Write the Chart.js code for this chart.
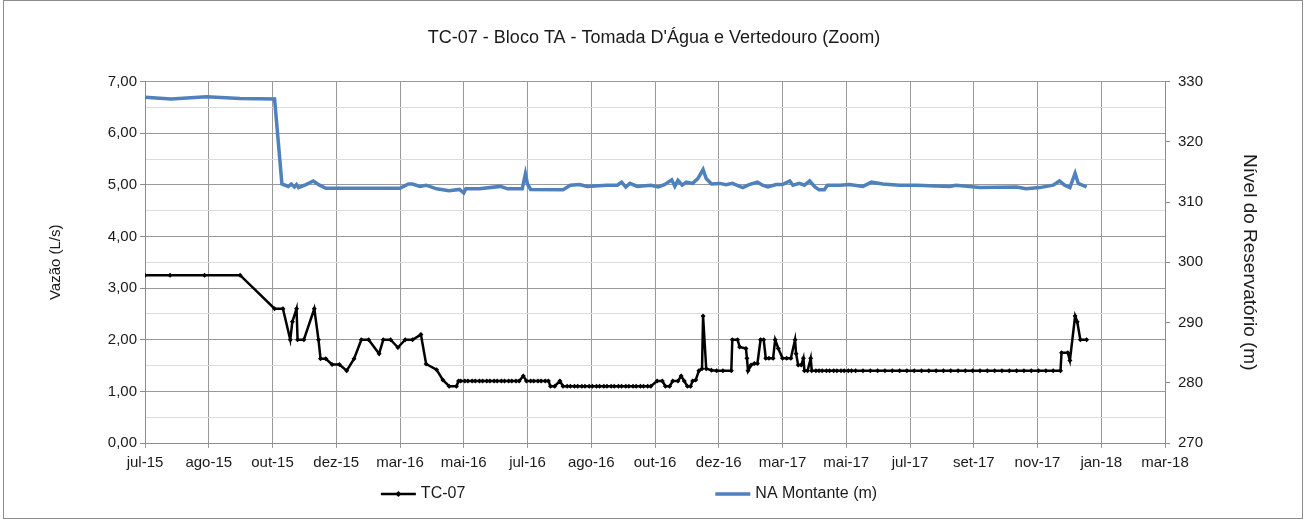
<!DOCTYPE html>
<html>
<head>
<meta charset="utf-8">
<script src="https://cdn.jsdelivr.net/npm/chart.js@4.4.1/dist/chart.umd.min.js"></script>
<style>
  html, body { margin: 0; padding: 0; background: #fff; }
</style>
</head>
<body>
<canvas id="chart" width="1304" height="519"></canvas>
<script>
const startDate = "2015-07-01";
const xTickLabels = ["jul-15", "ago-15", "out-15", "dez-15", "mar-16", "mai-16", "jul-16", "ago-16", "out-16",
    "dez-16", "mar-17", "mai-17", "jul-17", "set-17", "nov-17", "jan-18", "mar-18"];

// TC-07 (L/s)
const tcDates = [
    "2015-07-01", "2015-07-25", "2015-08-27", "2015-09-30", "2015-11-02", "2015-11-10", "2015-11-17", "2015-11-19", "2015-11-23", "2015-11-24",
    "2015-11-30", "2015-12-10", "2015-12-14", "2015-12-16", "2015-12-21", "2015-12-27", "2016-01-03", "2016-01-10", "2016-01-17", "2016-01-24",
    "2016-01-31", "2016-02-10", "2016-02-14", "2016-02-21", "2016-02-28", "2016-03-06", "2016-03-13", "2016-03-21", "2016-03-26", "2016-04-05",
    "2016-04-11", "2016-04-17", "2016-04-24", "2016-04-26", "2016-04-28", "2016-05-02", "2016-05-05", "2016-05-09", "2016-05-12", "2016-05-16",
    "2016-05-19", "2016-05-23", "2016-05-26", "2016-05-30", "2016-06-02", "2016-06-06", "2016-06-09", "2016-06-13", "2016-06-16", "2016-06-20",
    "2016-06-23", "2016-06-27", "2016-06-30", "2016-07-04", "2016-07-07", "2016-07-11", "2016-07-14", "2016-07-18", "2016-07-21", "2016-07-23",
    "2016-07-27", "2016-08-01", "2016-08-04", "2016-08-08", "2016-08-11", "2016-08-15", "2016-08-18", "2016-08-22", "2016-08-25", "2016-08-29",
    "2016-09-01", "2016-09-05", "2016-09-08", "2016-09-12", "2016-09-15", "2016-09-19", "2016-09-22", "2016-09-26", "2016-09-29", "2016-10-03",
    "2016-10-06", "2016-10-10", "2016-10-13", "2016-10-17", "2016-10-20", "2016-10-24", "2016-10-27", "2016-11-02", "2016-11-07", "2016-11-10",
    "2016-11-14", "2016-11-17", "2016-11-22", "2016-11-25", "2016-11-28", "2016-12-01", "2016-12-04", "2016-12-06", "2016-12-09", "2016-12-12",
    "2016-12-15", "2016-12-16", "2016-12-19", "2016-12-24", "2016-12-29", "2017-01-04", "2017-01-12", "2017-01-13", "2017-01-18", "2017-01-20",
    "2017-01-26", "2017-01-27", "2017-01-28", "2017-01-31", "2017-02-03", "2017-02-06", "2017-02-09", "2017-02-12", "2017-02-14", "2017-02-17",
    "2017-02-21", "2017-02-23", "2017-02-26", "2017-03-02", "2017-03-06", "2017-03-10", "2017-03-14", "2017-03-15", "2017-03-17", "2017-03-20",
    "2017-03-22", "2017-03-23", "2017-03-26", "2017-03-29", "2017-03-30", "2017-04-03", "2017-04-06", "2017-04-09", "2017-04-13", "2017-04-16",
    "2017-04-20", "2017-04-23", "2017-04-27", "2017-04-30", "2017-05-04", "2017-05-07", "2017-05-11", "2017-05-18", "2017-05-25", "2017-06-01",
    "2017-06-08", "2017-06-15", "2017-06-22", "2017-06-29", "2017-07-06", "2017-07-13", "2017-07-20", "2017-07-27", "2017-08-03", "2017-08-10",
    "2017-08-17", "2017-08-24", "2017-08-31", "2017-09-07", "2017-09-14", "2017-09-21", "2017-09-28", "2017-10-05", "2017-10-12", "2017-10-19",
    "2017-10-26", "2017-11-02", "2017-11-09", "2017-11-16", "2017-11-23", "2017-11-24", "2017-11-30", "2017-12-02", "2017-12-07", "2017-12-09",
    "2017-12-12", "2017-12-18"
];
const tcValues = [
    3.25, 3.25, 3.25, 3.25, 2.60, 2.60, 2.00, 2.35, 2.60, 2.00,
    2.00, 2.60, 2.00, 1.63, 1.63, 1.52, 1.52, 1.40, 1.63, 2.00,
    2.00, 1.73, 2.00, 2.00, 1.85, 2.00, 2.00, 2.10, 1.53, 1.42,
    1.22, 1.10, 1.10, 1.20, 1.20, 1.20, 1.20, 1.20, 1.20, 1.20,
    1.20, 1.20, 1.20, 1.20, 1.20, 1.20, 1.20, 1.20, 1.20, 1.20,
    1.20, 1.30, 1.20, 1.20, 1.20, 1.20, 1.20, 1.20, 1.20, 1.10,
    1.10, 1.20, 1.10, 1.10, 1.10, 1.10, 1.10, 1.10, 1.10, 1.10,
    1.10, 1.10, 1.10, 1.10, 1.10, 1.10, 1.10, 1.10, 1.10, 1.10,
    1.10, 1.10, 1.10, 1.10, 1.10, 1.10, 1.10, 1.20, 1.20, 1.10,
    1.10, 1.20, 1.20, 1.30, 1.20, 1.10, 1.10, 1.20, 1.22, 1.40,
    1.44, 2.46, 1.44, 1.41, 1.40, 1.40, 1.40, 2.00, 2.00, 1.86,
    1.83, 1.64, 1.40, 1.51, 1.54, 1.54, 2.00, 2.00, 1.64, 1.64,
    1.64, 2.00, 1.83, 1.64, 1.64, 1.64, 2.00, 1.73, 1.51, 1.51,
    1.64, 1.40, 1.40, 1.64, 1.40, 1.40, 1.40, 1.40, 1.40, 1.40,
    1.40, 1.40, 1.40, 1.40, 1.40, 1.40, 1.40, 1.40, 1.40, 1.40,
    1.40, 1.40, 1.40, 1.40, 1.40, 1.40, 1.40, 1.40, 1.40, 1.40,
    1.40, 1.40, 1.40, 1.40, 1.40, 1.40, 1.40, 1.40, 1.40, 1.40,
    1.40, 1.40, 1.40, 1.40, 1.40, 1.75, 1.75, 1.60, 2.46, 2.35,
    2.00, 2.00
];

// NA Montante (m)
const naDates = [
    "2015-07-01", "2015-07-26", "2015-08-29", "2015-09-30", "2015-11-02", "2015-11-09", "2015-11-15", "2015-11-18", "2015-11-21", "2015-11-23",
    "2015-11-25", "2015-12-02", "2015-12-09", "2015-12-15", "2015-12-21", "2016-03-01", "2016-03-09", "2016-03-13", "2016-03-20", "2016-03-26",
    "2016-04-05", "2016-04-17", "2016-04-27", "2016-05-01", "2016-05-03", "2016-05-16", "2016-06-05", "2016-06-12", "2016-06-26", "2016-06-29",
    "2016-07-01", "2016-07-04", "2016-08-04", "2016-08-11", "2016-08-20", "2016-08-27", "2016-09-15", "2016-09-25", "2016-09-29", "2016-10-03",
    "2016-10-07", "2016-10-14", "2016-10-27", "2016-11-03", "2016-11-09", "2016-11-16", "2016-11-19", "2016-11-22", "2016-11-26", "2016-11-30",
    "2016-12-06", "2016-12-11", "2016-12-16", "2016-12-19", "2016-12-24", "2017-01-01", "2017-01-07", "2017-01-13", "2017-01-20", "2017-01-23",
    "2017-01-29", "2017-02-06", "2017-02-11", "2017-02-16", "2017-02-24", "2017-03-02", "2017-03-09", "2017-03-12", "2017-03-18", "2017-03-23",
    "2017-03-28", "2017-04-02", "2017-04-06", "2017-04-11", "2017-04-14", "2017-04-26", "2017-05-05", "2017-05-18", "2017-05-26", "2017-06-06",
    "2017-06-22", "2017-07-08", "2017-08-09", "2017-08-15", "2017-09-07", "2017-10-12", "2017-10-21", "2017-11-03", "2017-11-16", "2017-11-22",
    "2017-11-27", "2017-12-02", "2017-12-07", "2017-12-10", "2017-12-18"
];
const naValues = [
    327.4, 327.1, 327.5, 327.2, 327.1, 313.0, 312.6, 313.0, 312.5, 312.9,
    312.4, 312.9, 313.5, 312.8, 312.3, 312.3, 313.0, 313.0, 312.6, 312.8,
    312.2, 311.9, 312.1, 311.5, 312.2, 312.2, 312.6, 312.2, 312.2, 314.7,
    313.0, 312.1, 312.05, 312.8, 312.9, 312.6, 312.8, 312.8, 313.3, 312.5,
    313.1, 312.6, 312.8, 312.5, 312.9, 313.7, 312.6, 313.6, 312.8, 313.3,
    313.1, 313.9, 315.4, 313.9, 313.0, 313.1, 312.9, 313.1, 312.6, 312.4,
    312.9, 313.3, 312.8, 312.5, 312.9, 312.9, 313.5, 312.8, 313.1, 312.8,
    313.5, 312.5, 312.05, 312.05, 312.8, 312.8, 312.9, 312.6, 313.3, 313.0,
    312.8, 312.8, 312.6, 312.8, 312.4, 312.5, 312.2, 312.4, 312.8, 313.5,
    312.8, 312.4, 314.8, 313.1, 312.5
];

const FONT = '"Liberation Sans", Arial, sans-serif';
const TEXT = "#1a1a1a";
const dayOf = (d) => (Date.parse(d) - Date.parse(startDate)) / 86400000;
const toPoints = (dates, values) => dates.map((d, i) => ({ x: dayOf(d), y: values[i] }));

const frame = {
    id: "frame",
    beforeDraw(chart) {
        const c = chart.ctx;
        c.save();
        c.fillStyle = "#fff";
        c.fillRect(0, 0, chart.width, chart.height);
        c.strokeStyle = "#8c8c8c";
        c.lineWidth = 1;
        c.strokeRect(3.5, 0.5, chart.width - 5, chart.height - 1);
        c.restore();
    }
};

// legend drawn by hand: Excel spaces the two entries far apart
const bottomLegend = {
    id: "bottomLegend",
    afterDraw(chart) {
        const c = chart.ctx, y = chart.height - 25, box = 35, gap = 250;
        const sets = chart.data.datasets;
        c.save();
        c.font = "16px " + FONT;
        c.textBaseline = "middle";
        const widths = sets.map(ds => box + 5 + c.measureText(ds.label).width);
        let x = 629 - (widths[0] + gap + widths[1]) / 2;
        sets.forEach((ds, i) => {
            c.strokeStyle = ds.borderColor;
            c.lineWidth = ds.borderWidth;
            c.beginPath(); c.moveTo(x, y); c.lineTo(x + box, y); c.stroke();
            if (ds.pointRadius) {
                const cx = x + box / 2, r = ds.pointRadius + 0.5;
                c.fillStyle = ds.borderColor;
                c.beginPath(); c.moveTo(cx, y - r); c.lineTo(cx + r, y); c.lineTo(cx, y + r); c.lineTo(cx - r, y); c.closePath(); c.fill();
            }
            c.fillStyle = TEXT;
            c.fillText(ds.label, x + box + 5, y);
            x += widths[i] + gap;
        });
        c.restore();
    }
};

new Chart(document.getElementById("chart"), {
    type: "line",
    data: {
        datasets: [
            {
                label: "TC-07",
                data: toPoints(tcDates, tcValues),
                borderColor: "#000",
                backgroundColor: "#000",
                borderWidth: 2.5,
                pointStyle: "rectRot",
                pointRadius: 2.5,
                pointBorderWidth: 0,
                tension: 0,
                yAxisID: "y"
            },
            {
                label: "NA Montante (m)",
                data: toPoints(naDates, naValues),
                borderColor: "#4F81BD",
                backgroundColor: "#4F81BD",
                borderWidth: 3.5,
                pointRadius: 0,
                tension: 0,
                yAxisID: "y1"
            }
        ]
    },
    options: {
        responsive: false,
        animation: false,
        layout: { padding: { left: 43, right: 39, top: 0, bottom: 41 } },
        plugins: {
            legend: { display: false },
            tooltip: { enabled: false },
            title: {
                display: true,
                text: "TC-07 - Bloco TA - Tomada D'Água e Vertedouro (Zoom)",
                color: TEXT,
                font: { family: FONT, size: 18, weight: "normal" },
                padding: { top: 27, bottom: 33 }
            }
        },
        scales: {
            x: {
                type: "linear",
                min: 0,
                max: 976,
                afterFit: (s) => { s.height = 35; },
                border: { color: "#8c8c8c" },
                grid: { color: "#9a9a9a", tickLength: 5 },
                ticks: {
                    stepSize: 61,
                    autoSkip: false,
                    maxRotation: 0,
                    padding: 6,
                    color: TEXT,
                    font: { family: FONT, size: 15 },
                    callback: (v) => xTickLabels[Math.round(v / 61)]
                }
            },
            y: {
                position: "left",
                min: 0,
                max: 7,
                afterFit: (s) => { s.width = 102; },
                border: { color: "#8c8c8c" },
                grid: {
                    color: (c) => Number.isInteger(c.tick.value) ? "#9a9a9a" : "#dcdcdc",
                    tickColor: (c) => Number.isInteger(c.tick.value) ? "#8c8c8c" : "rgba(0,0,0,0)",
                    tickLength: 5
                },
                ticks: {
                    stepSize: 0.5,
                    color: TEXT,
                    font: { family: FONT, size: 15 },
                    callback: (v) => Number.isInteger(v) ? v.toFixed(2).replace(".", ",") : ""
                },
                title: { display: true, text: "Vazão (L/s)", color: TEXT, font: { family: FONT, size: 15 } }
            },
            y1: {
                position: "right",
                min: 270,
                max: 330,
                afterFit: (s) => { s.width = 100; },
                border: { color: "#8c8c8c" },
                grid: { drawOnChartArea: false, color: "#8c8c8c", tickLength: 5 },
                ticks: { stepSize: 10, padding: 8, color: TEXT, font: { family: FONT, size: 15 } },
                title: { display: true, text: "Nível do Reservatório (m)", color: TEXT, font: { family: FONT, size: 19 } }
            }
        }
    },
    plugins: [frame, bottomLegend]
});
</script>
</body>
</html>
